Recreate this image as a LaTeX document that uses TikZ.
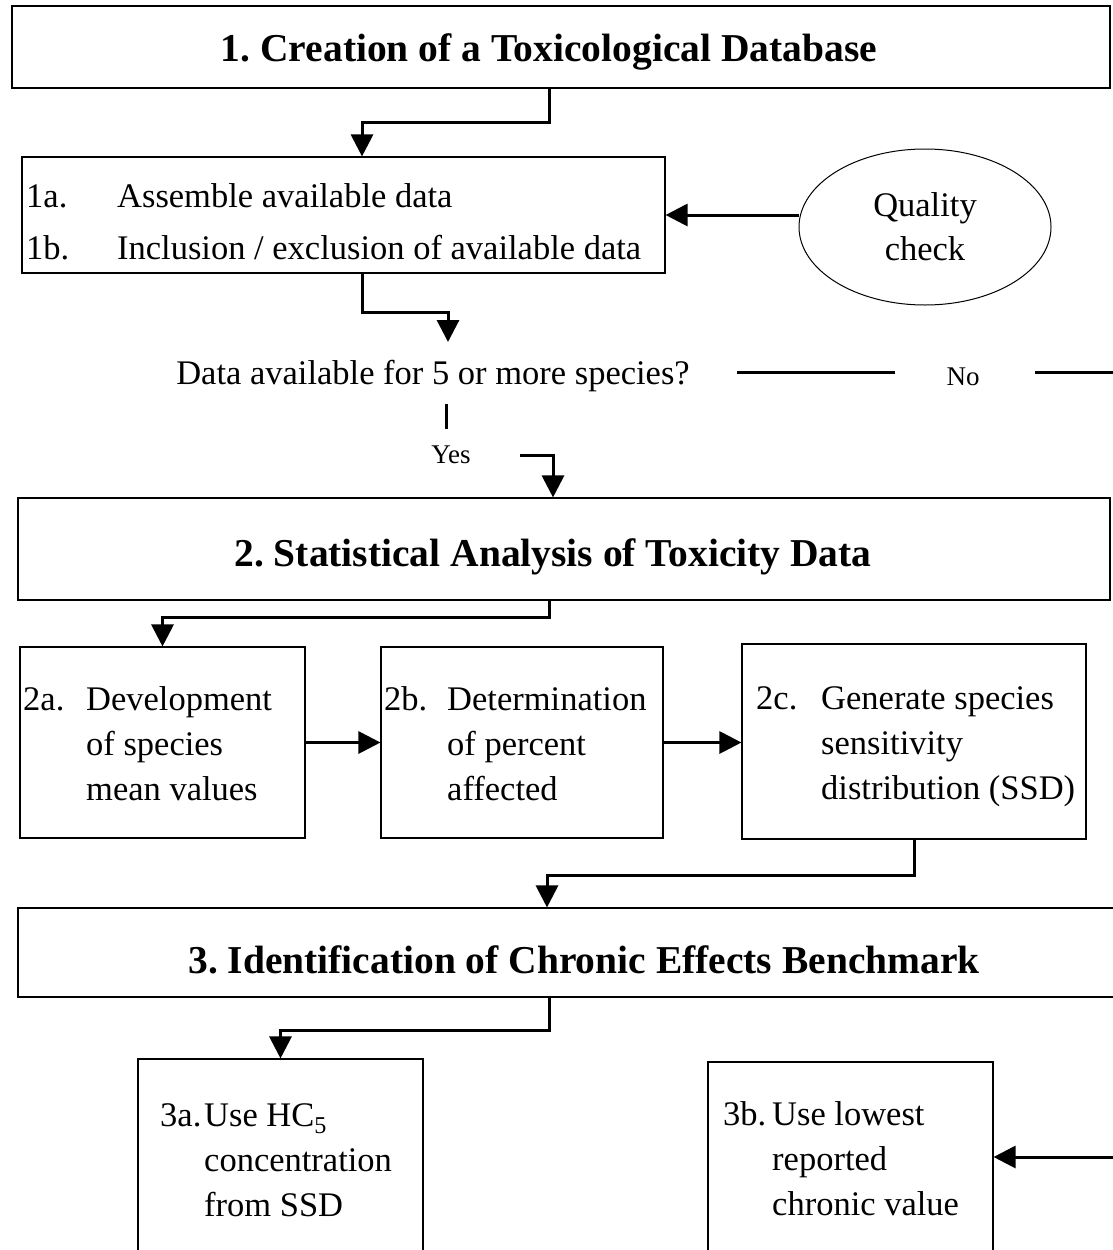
\documentclass[tikz,border=0pt]{standalone}
\usepackage{fontspec}
\setmainfont{Liberation Serif}
\usetikzlibrary{arrows.meta,shapes.geometric}
\tikzset{
  box/.style={draw, line width=1.1pt, inner sep=0pt},
  arr/.style={line width=3pt, -{Triangle[length=22pt,width=22pt]}},
  bar/.style={line width=3pt},
  txt/.style={inner sep=0pt, font=\fontsize{34.5}{45}\selectfont},
  ttl/.style={inner sep=0pt, font=\fontsize{39.5}{46}\selectfont\bfseries},
  small/.style={inner sep=0pt, font=\fontsize{27}{32}\selectfont},
}
\begin{document}
\frenchspacing
\begin{tikzpicture}[x=1pt,y=-1pt]
\clip (0,0) rectangle (1113,1250);
\fill[white] (0,0) rectangle (1113,1250);
% boxes
\node[box, minimum width=1098pt, minimum height=82pt] (b1) at (561,47) {};
\node[ttl] (t1) at (549,52) {1. Creation of a Toxicological Database};
\node[box, minimum width=643pt, minimum height=116pt] (b1a) at (343.5,215) {};
\node[txt, anchor=west, font=\fontsize{34.5}{52}\selectfont] (t1a) at (26,223)
  {\begin{tabular}{@{}p{91pt}@{}l@{}}1a.&Assemble available data\\1b.&Inclusion / exclusion of available data\end{tabular}};
\node[draw, line width=1pt, ellipse, minimum width=252pt, minimum height=156pt, inner sep=0pt] (q) at (925,227) {};
\node[txt, align=center, font=\fontsize{34.5}{44}\selectfont] (tq) at (925,227) {Quality\\check};
\node[txt] (dq) at (433,376) {Data available for 5 or more species?};
\node[small] (no) at (963,377) {No};
\node[small] (yes) at (451,455) {Yes};
\node[box, minimum width=1092pt, minimum height=102pt] (b2) at (564,549) {};
\node[ttl] (t2) at (553,557) {2. Statistical Analysis of Toxicity Data};
\node[box, minimum width=285pt, minimum height=191pt] (b2a) at (162.5,742.5) {};
\node[box, minimum width=282pt, minimum height=191pt] (b2b) at (522,742.5) {};
\node[box, minimum width=344pt, minimum height=195pt] (b2c) at (914,741.5) {};
\node[txt, anchor=west] (t2a) at (23,746)
  {\begin{tabular}{@{}p{63pt}@{}l@{}}2a.&Development\\&of species\\&mean values\end{tabular}};
\node[txt, anchor=west] (t2b) at (384,746)
  {\begin{tabular}{@{}p{63pt}@{}l@{}}2b.&Determination\\&of percent\\&affected\end{tabular}};
\node[txt, anchor=west] (t2c) at (756,745)
  {\begin{tabular}{@{}p{65pt}@{}l@{}}2c.&Generate species\\&sensitivity\\&distribution (SSD)\end{tabular}};
\node[box, minimum width=1099pt, minimum height=89pt] (b3) at (567.5,952.5) {};
\node[ttl] (t3) at (584,960) {3. Identification of Chronic Effects Benchmark};
\node[box, minimum width=285pt, minimum height=260pt] (b3a) at (280.5,1189) {};
\node[box, minimum width=285pt, minimum height=260pt] (b3b) at (850.5,1192) {};
\node[txt, anchor=west] (t3a) at (160,1162)
  {\begin{tabular}{@{}p{44pt}@{}l@{}}3a.&Use HC\textsubscript{5}\\&concentration\\&from SSD\end{tabular}};
\node[txt, anchor=west] (t3b) at (723,1161)
  {\begin{tabular}{@{}p{49pt}@{}l@{}}3b.&Use lowest\\&reported\\&chronic value\end{tabular}};
% helper coordinates
\coordinate (d1) at (448,342);
\coordinate (n1) at (737,372);
\coordinate (n2) at (895,372);
\coordinate (n3) at (1035,372);
\coordinate (n4) at (1113,372);
\coordinate (k1) at (446,404);
\coordinate (k2) at (446,429);
\coordinate (y1) at (520,455);
\coordinate (r9) at (1113,1157);
% connectors
\draw[arr] ([xshift=-12pt]b1.south) -- ++(0,34) -| ([xshift=18.5pt]b1a.north);
\draw[arr] (q.west |- b1a.east) -- (b1a.east);
\draw[arr] ([xshift=18.5pt]b1a.south) -- ++(0,39) -| (d1);
\draw[bar] (n1) -- (n2);
\draw[bar] (n3) -- (n4);
\draw[bar] (k1) -- (k2);
\draw[arr] (y1) -| ([xshift=-11pt]b2.north);
\draw[arr] ([xshift=-15pt]b2.south) -- ++(0,17) -| (b2a.north);
\draw[arr] (b2a.east) -- (b2b.west);
\draw[arr] (b2b.east) -- (b2c.west |- b2b.east);
\draw[arr] (b2c.south) -- ++(0,36) -| ([xshift=-20.5pt]b3.north);
\draw[arr] ([xshift=-18.5pt]b3.south) -- ++(0,33) -| (b3a.north);
\draw[arr] (r9) -- (r9 -| b3b.east);
\end{tikzpicture}
\end{document}
